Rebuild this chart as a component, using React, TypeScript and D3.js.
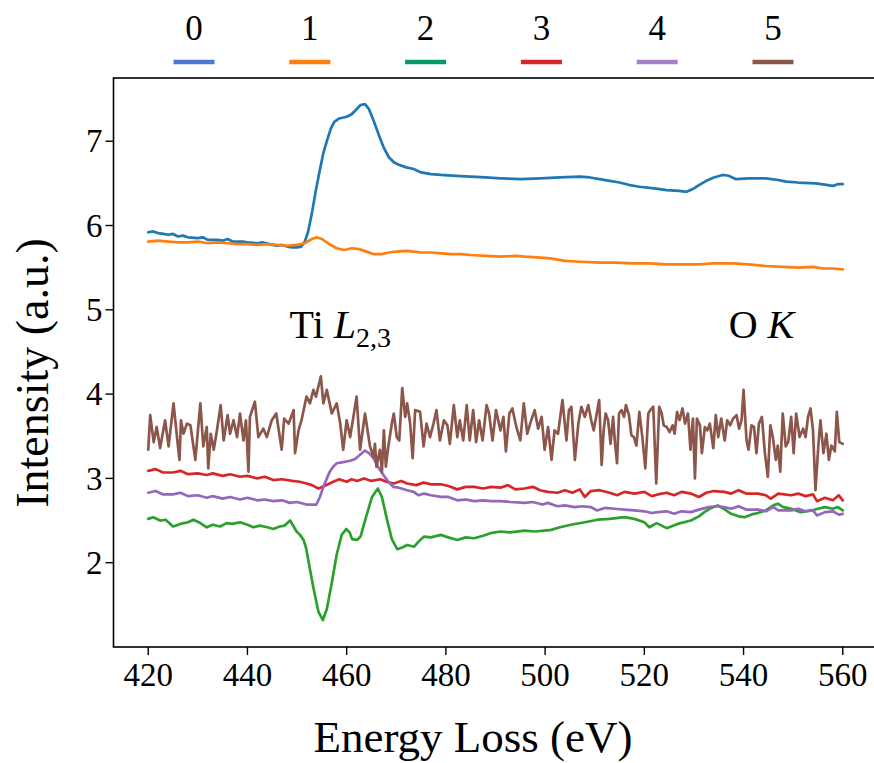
import React from "react";
import * as d3 from "d3";

// Tick values and legend labels
const energyTicks = [420, 440, 460, 480, 500, 520, 540, 560];
const intensityTicks = [2, 3, 4, 5, 6, 7];
const seriesLabels = ["0", "1", "2", "3", "4", "5"];
const lineColors = ["#1f77b4", "#ff7f0e", "#2ca02c", "#d62728", "#9467bd", "#8c564b"];
const legendColors = ["#4878cf", "#ff7f0e", "#039b62", "#d62728", "#a57fc9", "#8c564b"];

// Spectra as [energy loss (eV), intensity (a.u.)]
const series0: [number, number][] = [
  [420, 5.92], [421, 5.93], [422, 5.91], [423, 5.9], [424, 5.89], [425, 5.9], [426, 5.87], [427, 5.88],
  [428, 5.86], [430, 5.85], [431, 5.86], [432, 5.83], [434, 5.83], [435, 5.82], [436, 5.84], [437, 5.81],
  [439, 5.81], [440, 5.8], [442, 5.79], [443, 5.8], [445, 5.77], [446, 5.76], [447, 5.77], [448, 5.75],
  [449, 5.74], [450, 5.74], [450.8, 5.75], [451.5, 5.8], [452.2, 5.92], [453, 6.15], [453.8, 6.42],
  [454.6, 6.66], [455.3, 6.86], [456, 7.0], [456.8, 7.15], [457.5, 7.23], [458.5, 7.27], [460, 7.29],
  [461, 7.32], [462, 7.38], [462.8, 7.43], [463.7, 7.44], [464.5, 7.38], [465.4, 7.25], [466.5, 7.07],
  [467.5, 6.92], [468.5, 6.81], [469.5, 6.75], [470.5, 6.72], [472, 6.69], [473.5, 6.67], [475, 6.63],
  [477, 6.61], [479, 6.6], [482, 6.59], [485, 6.58], [488, 6.57], [491, 6.56], [495, 6.55], [499, 6.56],
  [503, 6.57], [507, 6.58], [509, 6.57], [511, 6.55], [513, 6.53], [515, 6.51], [517, 6.48], [519, 6.46],
  [522, 6.44], [524.5, 6.42], [527, 6.41], [528.5, 6.4], [530, 6.44], [531, 6.48], [532.5, 6.53],
  [534, 6.57], [535.8, 6.6], [537, 6.59], [538.5, 6.55], [541, 6.56], [544.5, 6.56], [547, 6.54],
  [548.6, 6.52], [551, 6.51], [554.6, 6.5], [557, 6.48], [558, 6.47], [559, 6.49], [560, 6.49],
];

const series1: [number, number][] = [
  [420, 5.81], [422, 5.82], [424, 5.81], [426, 5.8], [428, 5.8], [430, 5.81], [432, 5.79], [434, 5.8],
  [436, 5.79], [438, 5.78], [440, 5.78], [442, 5.77], [444, 5.78], [446, 5.77], [448, 5.76], [450, 5.77],
  [451.5, 5.79], [453, 5.84], [454, 5.86], [455, 5.84], [456.5, 5.78], [458, 5.73], [459.5, 5.71],
  [461, 5.73], [462.5, 5.72], [464, 5.69], [465.5, 5.66], [467, 5.66], [468.5, 5.68], [470, 5.69],
  [472, 5.7], [473.5, 5.69], [475, 5.68], [477, 5.68], [479, 5.67], [481, 5.66], [483, 5.66], [485, 5.65],
  [488, 5.64], [491, 5.63], [494, 5.64], [496, 5.63], [499, 5.62], [501, 5.61], [504, 5.58], [507, 5.57],
  [511, 5.56], [514, 5.56], [518, 5.55], [521, 5.55], [524.5, 5.54], [528, 5.54], [531, 5.54], [534, 5.55],
  [538, 5.55], [541, 5.54], [544.5, 5.52], [548, 5.51], [551, 5.5], [554, 5.51], [556, 5.49], [558, 5.49],
  [560, 5.48],
];

const series2: [number, number][] = [
  [420, 2.52], [421, 2.54], [422.4, 2.5], [423.5, 2.51], [425, 2.43], [426.5, 2.46], [428, 2.48],
  [429.1, 2.51], [430.5, 2.47], [431.8, 2.42], [433, 2.45], [434.5, 2.43], [435.8, 2.47], [437, 2.46],
  [438.5, 2.48], [440, 2.45], [441.2, 2.42], [442.5, 2.44], [444, 2.42], [445.2, 2.4], [446.5, 2.43],
  [447.5, 2.44], [448.6, 2.5], [449.9, 2.37], [450.6, 2.33], [451.3, 2.27], [451.8, 2.18], [452.3, 2.02],
  [453.3, 1.7], [454.3, 1.42], [455.2, 1.32], [456, 1.45], [457, 1.76], [458, 2.1], [459, 2.33],
  [459.9, 2.4], [460.6, 2.36], [461.1, 2.28], [462.1, 2.27], [462.8, 2.31], [463.8, 2.52], [465.1, 2.78],
  [466.3, 2.88], [467.1, 2.78], [468.1, 2.52], [469.1, 2.28], [470.2, 2.16], [471.2, 2.18], [472.2, 2.21],
  [473.6, 2.19], [474.5, 2.25], [475.6, 2.31], [477, 2.3], [479, 2.33], [480.5, 2.3], [482.3, 2.27],
  [484, 2.3], [485.7, 2.29], [487.5, 2.32], [489, 2.35], [491, 2.37], [493, 2.36], [495.8, 2.38],
  [498, 2.37], [501.2, 2.39], [503, 2.42], [505.2, 2.45], [508, 2.48], [510.6, 2.51], [513, 2.52],
  [516, 2.54], [518, 2.52], [520, 2.48], [521, 2.42], [522.5, 2.47], [524.5, 2.41], [526.7, 2.46],
  [529.4, 2.5], [531, 2.55], [532.1, 2.6], [533.5, 2.65], [534.8, 2.68], [536, 2.64], [537.5, 2.58],
  [539, 2.55], [540.2, 2.54], [541.5, 2.57], [542.9, 2.59], [544.5, 2.62], [546, 2.68], [546.9, 2.7],
  [548, 2.66], [549.6, 2.64], [551.5, 2.6], [553.7, 2.62], [555, 2.64], [556.4, 2.66], [558, 2.64],
  [559, 2.66], [560, 2.62],
];

const series3: [number, number][] = [
  [420, 3.09], [421.5, 3.11], [423, 3.07], [425, 3.07], [426.5, 3.09], [428, 3.05], [430, 3.06],
  [431.8, 3.04], [433, 3.06], [435, 3.03], [436.5, 3.05], [438.5, 3.02], [440, 3.03], [442, 3.0],
  [443.5, 3.02], [445.2, 2.98], [447, 2.99], [449, 2.97], [450.5, 2.96], [451.9, 2.94], [453, 2.92],
  [454.3, 2.88], [455.5, 2.91], [457.3, 2.96], [458.5, 2.99], [460, 2.96], [461, 2.99], [462.1, 2.97],
  [463.5, 3.0], [465, 2.97], [466.8, 2.99], [468, 2.96], [469.5, 2.94], [471, 2.97], [472.2, 2.94],
  [474, 2.92], [475.5, 2.95], [477, 2.93], [479, 2.93], [480.5, 2.91], [482.3, 2.87], [484, 2.9],
  [485.7, 2.9], [487.5, 2.88], [489.1, 2.9], [491, 2.89], [492.5, 2.92], [494, 2.87], [495.8, 2.88],
  [497.5, 2.9], [499, 2.86], [500.5, 2.84], [502.5, 2.83], [504, 2.86], [505.5, 2.83], [507, 2.87],
  [508, 2.78], [509.2, 2.85], [511, 2.86], [513, 2.83], [514.5, 2.8], [516, 2.84], [518, 2.82],
  [520, 2.84], [521.5, 2.79], [522.7, 2.81], [524.5, 2.83], [526, 2.8], [527.5, 2.84], [529.4, 2.82],
  [531, 2.78], [532.5, 2.83], [534, 2.85], [536.1, 2.84], [537.5, 2.82], [539, 2.86], [540.5, 2.82],
  [542.9, 2.82], [544.5, 2.8], [545.5, 2.76], [547, 2.82], [549.6, 2.8], [551, 2.82], [552.5, 2.79],
  [554, 2.81], [554.8, 2.73], [556.4, 2.77], [558, 2.74], [559.2, 2.8], [560, 2.74],
];

const series4: [number, number][] = [
  [420, 2.83], [421.5, 2.85], [423, 2.81], [425, 2.81], [426.5, 2.83], [428, 2.79], [430, 2.8],
  [431.8, 2.77], [433, 2.79], [435, 2.76], [436.5, 2.78], [438.5, 2.75], [440, 2.77], [442, 2.74],
  [443.5, 2.75], [445.2, 2.73], [447, 2.74], [448.5, 2.71], [450, 2.72], [451.9, 2.69], [453.9, 2.69],
  [454.6, 2.78], [455.3, 2.9], [456, 3.0], [456.6, 3.08], [457.3, 3.14], [458, 3.18], [459, 3.19],
  [460.7, 3.21], [461.7, 3.23], [462.7, 3.28], [463.7, 3.33], [464.5, 3.3], [465.4, 3.24], [466.4, 3.13],
  [467.4, 3.04], [468.4, 2.96], [469.4, 2.9], [470.5, 2.89], [472.2, 2.86], [473.5, 2.84], [474.5, 2.8],
  [475.6, 2.82], [477, 2.8], [479, 2.78], [480.5, 2.78], [482.3, 2.74], [484, 2.75], [485.7, 2.73],
  [487.5, 2.74], [489.1, 2.73], [491, 2.73], [493, 2.72], [495.8, 2.71], [497.5, 2.72], [499.5, 2.69],
  [500.5, 2.71], [502.5, 2.67], [504, 2.68], [506, 2.66], [507.5, 2.67], [509.2, 2.66], [510.5, 2.62],
  [512, 2.65], [514, 2.64], [516, 2.63], [518, 2.62], [520, 2.61], [521.5, 2.59], [522.7, 2.6],
  [524.5, 2.61], [526, 2.58], [527.5, 2.61], [529.4, 2.6], [531, 2.63], [533, 2.66], [534.5, 2.67],
  [536.1, 2.66], [537.5, 2.64], [539, 2.67], [540.5, 2.63], [542.9, 2.63], [544.5, 2.61], [546, 2.66],
  [547, 2.62], [549.6, 2.62], [551, 2.64], [552.5, 2.61], [554, 2.62], [554.8, 2.56], [556.4, 2.6],
  [558, 2.61], [559.2, 2.57], [560, 2.58],
];

const series5: [number, number][] = [
  [420.0, 3.34], [420.4, 3.75], [421.1, 3.43], [421.7, 3.61], [422.4, 3.36], [423.4, 3.69], [424.1, 3.38],
  [425.1, 3.89], [425.8, 3.49], [426.3, 3.22], [426.6, 3.69], [427.1, 3.53], [427.8, 3.65], [428.5, 3.63],
  [429.5, 3.22], [430.5, 3.89], [431.1, 3.38], [431.8, 3.61], [432.1, 3.12], [432.6, 3.53], [433.2, 3.34],
  [433.8, 3.55], [434.6, 3.87], [435.2, 3.45], [436.0, 3.75], [436.5, 3.53], [437.2, 3.69], [437.9, 3.49],
  [438.5, 3.77], [439.2, 3.45], [439.7, 3.69], [440.2, 3.08], [440.5, 3.73], [441.5, 3.91], [442.2, 3.49],
  [443.2, 3.59], [443.9, 3.49], [444.9, 3.69], [445.8, 3.77], [446.9, 3.34], [447.4, 3.71], [448.3, 3.65],
  [449.3, 3.81], [449.6, 3.3], [450.3, 3.57], [450.9, 3.69], [451.9, 3.97], [452.6, 3.89], [453.3, 4.05],
  [453.8, 3.97], [454.8, 4.21], [455.3, 3.89], [456.0, 4.05], [457.0, 3.77], [458.0, 3.89], [458.7, 3.65],
  [459.3, 3.34], [460.0, 3.69], [460.7, 3.49], [461.3, 3.71], [462.0, 3.97], [462.7, 3.34], [463.7, 3.77],
  [464.7, 3.38], [465.4, 3.26], [465.7, 3.41], [466.0, 3.14], [466.7, 3.34], [467.1, 3.08], [467.5, 3.57],
  [467.9, 3.14], [468.4, 3.38], [469.1, 3.65], [469.5, 3.77], [470.1, 3.49], [470.6, 3.45], [471.2, 4.07],
  [471.8, 3.73], [472.2, 3.89], [472.8, 3.65], [473.3, 3.24], [473.8, 3.81], [474.8, 3.79], [475.5, 3.38],
  [476.1, 3.65], [476.8, 3.49], [477.5, 3.65], [478.1, 3.81], [478.8, 3.45], [479.6, 3.69], [480.3, 3.63],
  [480.8, 3.41], [481.6, 3.87], [482.3, 3.49], [482.8, 3.69], [483.5, 3.45], [484.2, 3.87], [484.8, 3.45],
  [485.5, 3.81], [486.1, 3.43], [486.7, 3.69], [487.4, 3.45], [488.2, 3.87], [488.7, 3.77], [489.4, 3.45],
  [490.1, 3.81], [491.0, 3.57], [491.6, 3.73], [492.1, 3.32], [492.8, 3.77], [493.4, 3.83], [494.2, 3.61],
  [495.0, 3.45], [495.7, 3.89], [496.4, 3.53], [497.1, 3.67], [497.9, 3.81], [498.6, 3.59], [499.3, 3.73],
  [499.9, 3.34], [500.6, 3.61], [501.3, 3.22], [501.9, 3.57], [502.6, 3.53], [503.5, 3.93], [504.3, 3.45],
  [504.8, 3.81], [505.3, 3.85], [506.0, 3.22], [506.7, 3.65], [507.3, 3.85], [508.0, 3.73], [508.7, 3.87],
  [509.3, 3.69], [509.8, 3.57], [510.9, 3.93], [511.4, 3.16], [511.8, 3.57], [512.2, 3.77], [512.7, 3.69],
  [513.2, 3.41], [513.7, 3.73], [514.1, 3.41], [514.5, 3.18], [514.9, 3.77], [515.4, 3.81], [515.9, 3.73],
  [516.3, 3.87], [516.9, 3.75], [517.4, 3.51], [517.9, 3.49], [518.4, 3.39], [519.0, 3.79], [519.6, 3.49],
  [520.2, 3.12], [520.8, 3.77], [521.2, 3.81], [521.8, 3.85], [522.4, 2.94], [523.0, 3.85], [523.5, 3.77],
  [523.9, 3.63], [524.5, 3.61], [525.1, 3.55], [525.7, 3.63], [526.1, 3.53], [526.6, 3.79], [527.1, 3.69],
  [527.7, 3.83], [528.2, 3.65], [528.8, 3.77], [529.3, 3.34], [529.8, 3.71], [530.2, 3.0], [530.6, 3.71],
  [531.2, 3.63], [531.6, 3.3], [532.2, 3.61], [532.7, 3.57], [533.2, 3.65], [533.9, 3.36], [534.4, 3.75],
  [534.9, 3.49], [535.5, 3.71], [536.2, 3.45], [536.7, 3.69], [537.3, 3.63], [537.9, 3.71], [538.6, 3.75],
  [539.1, 3.59], [539.6, 3.69], [540.0, 4.05], [540.6, 3.45], [541.0, 3.34], [541.6, 3.63], [542.1, 3.61],
  [542.6, 3.3], [543.1, 3.65], [543.7, 3.73], [544.3, 3.3], [544.9, 3.02], [545.4, 3.63], [545.9, 3.49],
  [546.5, 3.22], [546.9, 3.39], [547.4, 3.08], [547.9, 3.77], [548.5, 3.38], [549.0, 3.43], [549.6, 3.73],
  [550.1, 3.3], [550.6, 3.77], [551.3, 3.49], [552.0, 3.59], [552.5, 3.49], [553.0, 3.73], [553.5, 3.83],
  [554.0, 3.57], [554.5, 2.86], [555.1, 3.41], [555.5, 3.69], [556.1, 3.3], [556.7, 3.53], [557.2, 3.22],
  [557.7, 3.39], [558.4, 3.32], [558.8, 3.79], [559.3, 3.43], [560.0, 3.41],
];

const allSeries = [series0, series1, series2, series3, series4, series5];

const W = 874;
const H = 763;
const FONT = "'Liberation Serif', 'Times New Roman', serif";

const x = d3.scaleLinear().domain([413, 567]).range([113.5, 877.5]);
const y = d3.scaleLinear().domain([1.0, 7.75]).range([647, 78]);

const line = d3
  .line<[number, number]>()
  .x((d) => x(d[0]))
  .y((d) => y(d[1]));

export default function App() {
  const left = x.range()[0];
  const right = x.range()[1];
  const top = y.range()[1];
  const bottom = y.range()[0];
  const legendX0 = 194;
  const legendStep = 115.8;

  return (
    <svg
      width={W}
      height={H}
      viewBox={`0 0 ${W} ${H}`}
      style={{ position: "absolute", left: 0, top: 0, background: "#fff" }}
      fontFamily={FONT}
    >
      <rect x={0} y={0} width={W} height={H} fill="#fff" />
      <defs>
        <clipPath id="plot-area">
          <rect x={left} y={top} width={right - left} height={bottom - top} />
        </clipPath>
      </defs>

      {/* spectra */}
      <g clipPath="url(#plot-area)">
        {allSeries.map((s, i) => (
          <path
            key={i}
            d={line(s) ?? ""}
            fill="none"
            stroke={lineColors[i]}
            strokeWidth={2.7}
            strokeLinejoin="round"
            strokeLinecap="round"
          />
        ))}
      </g>

      {/* edge annotations */}
      <text x={x(448.5)} y={y(4.66)} fontSize={40} fill="#000">
        Ti <tspan fontStyle="italic">L</tspan>
        <tspan fontSize={28} dy={9}>2,3</tspan>
      </text>
      <text x={x(537)} y={y(4.66)} fontSize={40} fill="#000">
        O <tspan fontStyle="italic">K</tspan>
      </text>

      {/* axes frame */}
      <rect x={left} y={top} width={right - left} height={bottom - top} fill="none" stroke="#000" strokeWidth={1.6} />

      {/* x axis */}
      {energyTicks.map((t) => (
        <g key={t} transform={`translate(${x(t)},${bottom})`}>
          <line y1={0} y2={8} stroke="#000" strokeWidth={1.4} />
          <text y={39} textAnchor="middle" fontSize={33} fill="#000">
            {t}
          </text>
        </g>
      ))}
      <text x={473} y={752} textAnchor="middle" fontSize={45} fill="#000">
        Energy Loss (eV)
      </text>

      {/* y axis */}
      {intensityTicks.map((t) => (
        <g key={t} transform={`translate(${left},${y(t)})`}>
          <line x1={0} x2={-8} stroke="#000" strokeWidth={1.4} />
          <text x={-11} dy="0.34em" textAnchor="end" fontSize={33} fill="#000">
            {t}
          </text>
        </g>
      ))}
      <text
        transform={`translate(48,373) rotate(-90)`}
        textAnchor="middle"
        fontSize={46}
        fill="#000"
      >
        Intensity (a.u.)
      </text>

      {/* legend */}
      {seriesLabels.map((label, i) => {
        const cx = legendX0 + i * legendStep;
        return (
          <g key={label}>
            <text x={cx} y={40} textAnchor="middle" fontSize={35} fill="#000">
              {label}
            </text>
            <line x1={cx - 20.5} x2={cx + 20.5} y1={62} y2={62} stroke={legendColors[i]} strokeWidth={4.5} />
          </g>
        );
      })}
    </svg>
  );
}
